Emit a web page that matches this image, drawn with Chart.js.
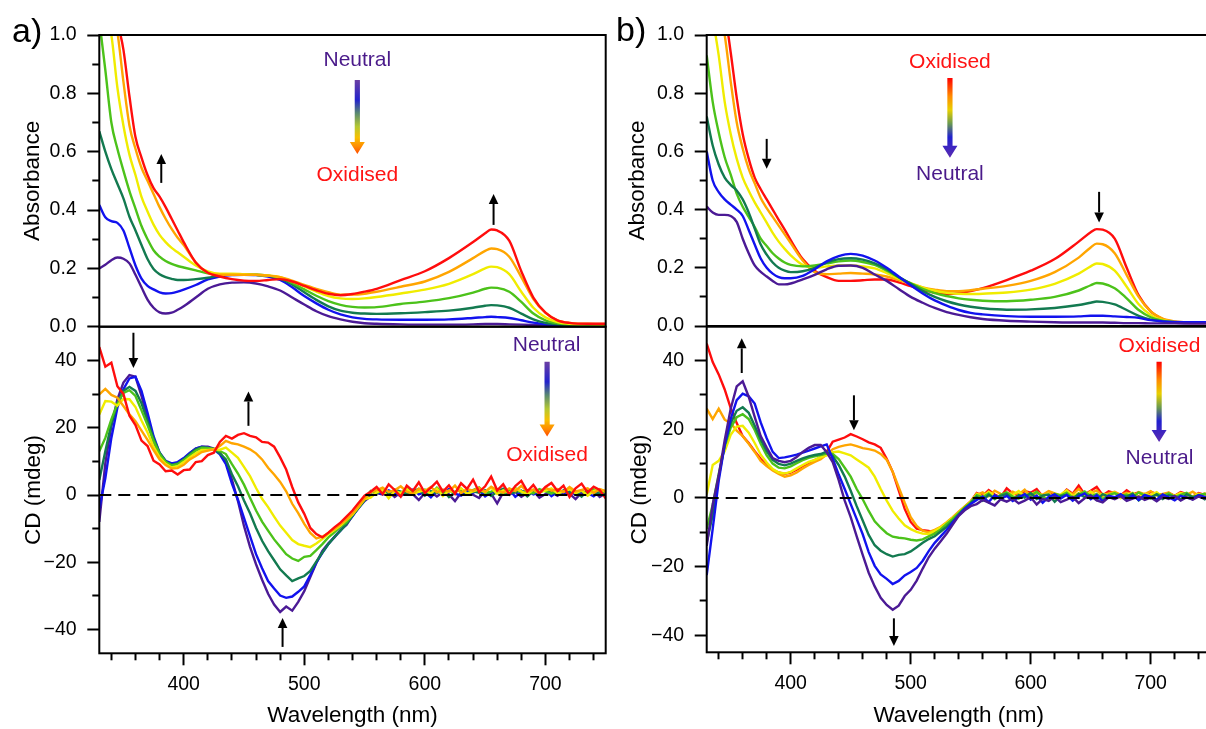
<!DOCTYPE html>
<html>
<head>
<meta charset="utf-8">
<script src="https://cdn.jsdelivr.net/npm/chart.js@4.4.1/dist/chart.umd.min.js"></script>
<style>
  html, body { margin: 0; padding: 0; background: #fff; overflow: hidden; width: 1206px; height: 729px; }
  canvas { position: absolute; }
</style>
</head>
<body>
<canvas id="absA" width="620" height="360" style="left:0;top:0"></canvas>
<canvas id="cdA" width="620" height="429" style="left:0;top:300px"></canvas>
<canvas id="absB" width="620" height="360" style="left:600px;top:0"></canvas>
<canvas id="cdB" width="620" height="429" style="left:600px;top:300px"></canvas>
<script>
// ---------- axis ticks ----------
const xMajorTicks = [400, 500, 600, 700];
const xMinorTicks = [340, 360, 380, 420, 440, 460, 480, 520, 540, 560, 580, 620, 640, 660, 680, 720, 740];
const absMajorTicks = [0, 0.2, 0.4, 0.6, 0.8, 1.0];
const absMinorTicks = [0.1, 0.3, 0.5, 0.7, 0.9];
const cdMajorTicks = [-40, -20, 0, 20, 40];
const cdMinorTicks = [-30, -10, 10, 30];

// ---------- absorbance spectra (wavelength in nm) ----------
const absWl = [330,335,340,345,350,355,360,365,370,375,380,385,390,395,400,
  410,420,430,440,450,460,470,480,490,500,510,520,530,540,550,560,
  580,600,620,640,650,655,660,670,680,690,700,710,720,735,750];

// a) neutral -> oxidised
const absA_purple = [0.200,0.212,0.228,0.237,0.233,0.217,0.178,0.135,0.093,0.065,0.049,0.045,0.048,0.058,0.070,
  0.100,0.130,0.145,0.151,0.152,0.148,0.138,0.124,0.100,0.076,0.053,0.036,0.025,0.017,0.012,0.010,
  0.008,0.007,0.007,0.008,0.009,0.009,0.009,0.008,0.007,0.006,0.005,0.005,0.004,0.004,0.004];
const absA_blue = [0.417,0.375,0.362,0.356,0.330,0.270,0.210,0.165,0.140,0.128,0.118,0.114,0.115,0.120,0.127,
  0.143,0.162,0.172,0.177,0.178,0.177,0.172,0.160,0.135,0.105,0.080,0.058,0.042,0.032,0.027,0.025,
  0.024,0.024,0.025,0.030,0.033,0.034,0.033,0.030,0.022,0.014,0.008,0.006,0.005,0.005,0.005];
const absA_teal = [0.670,0.600,0.540,0.490,0.440,0.377,0.330,0.280,0.232,0.198,0.180,0.170,0.164,0.160,0.160,
  0.163,0.168,0.176,0.180,0.180,0.178,0.175,0.165,0.145,0.118,0.092,0.070,0.055,0.048,0.045,0.044,
  0.046,0.050,0.055,0.065,0.072,0.074,0.073,0.065,0.045,0.025,0.013,0.008,0.006,0.005,0.005];
const absA_green = [1.050,0.880,0.700,0.610,0.535,0.465,0.405,0.345,0.300,0.262,0.240,0.225,0.215,0.208,0.203,
  0.193,0.183,0.180,0.180,0.180,0.178,0.175,0.168,0.150,0.128,0.106,0.088,0.075,0.068,0.066,0.067,
  0.078,0.086,0.098,0.117,0.130,0.134,0.133,0.120,0.085,0.045,0.022,0.012,0.008,0.006,0.006];
const absA_yellow = [1.150,1.080,1.000,0.820,0.690,0.590,0.520,0.445,0.395,0.350,0.315,0.290,0.270,0.255,0.240,
  0.210,0.190,0.182,0.182,0.180,0.178,0.176,0.170,0.155,0.138,0.120,0.105,0.097,0.095,0.097,0.102,
  0.114,0.127,0.147,0.180,0.200,0.206,0.204,0.180,0.120,0.065,0.032,0.016,0.010,0.008,0.007];
const absA_orange = [1.250,1.180,1.100,1.010,0.840,0.690,0.610,0.545,0.500,0.455,0.410,0.370,0.335,0.305,0.280,
  0.220,0.185,0.178,0.178,0.178,0.178,0.175,0.170,0.158,0.143,0.130,0.118,0.110,0.110,0.113,0.120,
  0.137,0.155,0.188,0.235,0.260,0.268,0.266,0.240,0.170,0.095,0.048,0.022,0.013,0.010,0.009];
const absA_red = [1.300,1.250,1.180,1.050,0.950,0.790,0.650,0.580,0.520,0.475,0.446,0.410,0.370,0.330,0.290,
  0.220,0.185,0.172,0.163,0.158,0.157,0.160,0.163,0.155,0.140,0.125,0.113,0.108,0.112,0.120,0.130,
  0.160,0.190,0.235,0.290,0.320,0.333,0.330,0.295,0.190,0.100,0.048,0.022,0.013,0.010,0.010];

// b) oxidised -> neutral
const absB_purple = [0.410,0.390,0.382,0.382,0.378,0.358,0.300,0.250,0.208,0.186,0.170,0.155,0.143,0.143,0.146,
  0.160,0.176,0.195,0.207,0.208,0.200,0.177,0.155,0.127,0.100,0.080,0.062,0.048,0.038,0.030,0.024,
  0.018,0.015,0.013,0.012,0.012,0.012,0.012,0.011,0.010,0.010,0.009,0.009,0.009,0.008,0.008];
const absB_blue = [0.600,0.500,0.460,0.435,0.417,0.400,0.378,0.330,0.280,0.232,0.200,0.180,0.168,0.164,0.164,
  0.172,0.195,0.222,0.240,0.248,0.242,0.225,0.200,0.170,0.140,0.112,0.088,0.070,0.055,0.045,0.040,
  0.034,0.032,0.032,0.033,0.035,0.035,0.035,0.033,0.031,0.028,0.020,0.016,0.014,0.013,0.013];
const absB_teal = [0.720,0.620,0.555,0.510,0.485,0.466,0.435,0.390,0.335,0.280,0.245,0.218,0.200,0.190,0.185,
  0.188,0.200,0.218,0.230,0.233,0.228,0.215,0.195,0.168,0.145,0.120,0.100,0.085,0.074,0.066,0.061,
  0.056,0.057,0.062,0.072,0.080,0.084,0.083,0.074,0.055,0.035,0.022,0.015,0.012,0.011,0.011];
const absB_green = [0.930,0.770,0.665,0.580,0.520,0.455,0.410,0.375,0.340,0.300,0.275,0.250,0.232,0.218,0.210,
  0.205,0.208,0.215,0.222,0.225,0.220,0.210,0.190,0.167,0.147,0.128,0.113,0.103,0.095,0.090,0.087,
  0.085,0.090,0.100,0.122,0.140,0.148,0.146,0.130,0.095,0.055,0.030,0.018,0.013,0.011,0.011];
const absB_yellow = [1.200,1.060,0.930,0.770,0.660,0.575,0.510,0.465,0.425,0.390,0.355,0.320,0.290,0.265,0.243,
  0.210,0.200,0.205,0.208,0.208,0.205,0.198,0.182,0.163,0.147,0.132,0.121,0.114,0.111,0.110,0.111,
  0.115,0.125,0.145,0.180,0.205,0.215,0.213,0.190,0.135,0.075,0.038,0.020,0.014,0.011,0.011];
const absB_orange = [1.300,1.200,1.100,1.000,0.840,0.700,0.610,0.540,0.490,0.440,0.405,0.375,0.345,0.315,0.285,
  0.225,0.185,0.178,0.180,0.182,0.180,0.177,0.170,0.158,0.145,0.133,0.125,0.120,0.120,0.123,0.128,
  0.138,0.155,0.185,0.235,0.270,0.283,0.281,0.250,0.175,0.100,0.050,0.025,0.016,0.012,0.012];
const absB_red = [1.350,1.250,1.160,1.080,0.940,0.785,0.660,0.575,0.510,0.470,0.435,0.400,0.365,0.331,0.295,
  0.230,0.190,0.168,0.155,0.155,0.157,0.160,0.160,0.150,0.137,0.125,0.115,0.110,0.113,0.120,0.130,
  0.158,0.190,0.230,0.290,0.322,0.333,0.331,0.300,0.200,0.105,0.050,0.024,0.014,0.010,0.010];

// ---------- CD spectra (mdeg), 330-750 nm every 5 nm ----------
const cdWl = [330,335,340,345,350,355,360,365,370,375,380,385,390,395,400,405,410,415,420,425,
  430,435,440,445,450,455,460,465,470,475,480,485,490,495,500,505,510,515,520,525,
  530,535,540,545,550,555,560,565,570,575,580,585,590,595,600,605,610,615,620,625,
  630,635,640,645,650,655,660,665,670,675,680,685,690,695,700,705,710,715,720,725,
  730,735,740,745,750];

const cdA_purple = [-8,9.5,20.5,28.5,33.5,35.7,35.2,29.5,22.8,15.8,
  11.6,9.8,9.2,9.6,10.8,12.4,13.8,14.4,14.4,13.8,
  12.6,9.8,4.6,-1.8,-9.2,-15.4,-20.6,-25.2,-29.4,-32.6,
  -34.8,-33.2,-34.4,-31.8,-28.6,-24.4,-20.2,-16.6,-14.4,-12.6,
  -10.4,-8.9,-6.2,-3.9,-1.8,
  -0.4,0.6,0.2,1.0,-0.6,0.8,1.2,0.3,-1.5,0.6,
  1.0,-0.4,0.9,0.2,-1.8,0.7,1.1,0.1,-0.9,1.3,
  0.4,-2.5,0.8,0.2,1.0,-0.5,0.6,1.2,-0.8,0.3,
  0.9,-0.2,1.1,0.4,-1.2,0.7,0.2,1.3,-0.6,0.5];
const cdA_blue = [-4,5,17,26,31.5,34.7,35.2,31,24.5,17.5,
  12.6,10.2,9.4,9.8,11,12.5,13.8,14.4,14.2,13.6,
  12.1,9.2,3.4,-1.4,-6.8,-12.2,-17.6,-21.8,-25.6,-27.8,
  -29.9,-30.6,-30.2,-28.8,-27.2,-23.8,-20.1,-17.2,-14.6,-12.4,
  -10.6,-8.4,-6.3,-3.7,-1.6,
  0.9,1.1,0.3,1.4,0.6,-0.3,1.0,1.6,0.2,0.9,
  -0.7,1.3,0.5,1.8,0.4,-0.2,1.2,0.7,1.5,-0.4,
  0.8,1.1,0.3,1.7,-0.5,0.9,1.4,0.2,0.8,1.6,
  -0.3,1.0,0.5,1.3,0.1,1.2,0.6,-0.4,1.1,0.7];
const cdA_teal = [4.5,13,21.2,27.2,31,32.2,31,27.3,22,16.8,
  12.6,10,9,9.4,10.6,12.2,13.6,14.2,14,13.6,
  12.4,10.6,6.2,2.6,-1.6,-5.4,-9.8,-13.6,-16.7,-19.4,
  -22.1,-23.9,-25.6,-24.8,-24.1,-22.6,-19.8,-17.1,-14.6,-12.5,
  -10.6,-8.6,-6.1,-3.8,-1.5,
  0.6,1.4,0.8,0.2,1.6,1.0,0.4,1.2,1.8,-0.2,
  1.1,0.6,1.5,-0.6,0.9,1.7,0.3,1.1,0.7,1.4,
  -0.3,1.0,1.9,0.5,0.8,1.3,-0.4,1.2,0.6,1.8,
  0.9,0.2,1.4,0.7,1.0,-0.5,1.3,0.8,0.3,1.1];
const cdA_green = [13,17,22.5,27.2,30.4,31.2,29.5,25.2,20.8,16.1,
  12.2,9.9,8.8,9.2,10.4,11.8,13.2,14,14,13.7,
  13.1,12.2,9.2,6.4,3.1,-0.8,-4.6,-7.9,-10.6,-13.2,
  -15.4,-17.6,-18.9,-19.6,-18.4,-18.1,-16.4,-14.6,-12.6,-11.1,
  -9.4,-8.1,-5.9,-3.7,-1.4,
  1.2,0.5,1.7,0.9,1.3,0.1,2.0,0.8,1.1,1.6,
  0.3,2.2,0.7,1.2,0.9,1.9,0.4,1.5,2.3,0.6,
  1.0,1.7,0.2,1.4,2.1,0.8,1.2,0.5,1.8,1.1,
  0.4,1.6,0.9,2.0,0.6,1.3,0.2,1.7,1.0,0.8];
const cdA_yellow = [24,28,27.8,26.6,28.6,28.5,26.2,22.2,18.6,14.4,
  11.2,9.3,8.2,8.6,9.8,11.2,12.4,13.4,13.4,13.6,
  13.5,14.1,12.6,11.1,8.4,5.6,2.1,-1.1,-3.6,-6.4,
  -9.1,-11.2,-13.4,-14.6,-15.1,-15.5,-14.4,-13.1,-11.6,-10.4,
  -9.1,-7.4,-5.8,-3.5,-1.2,
  -0.8,0.9,1.5,-1.0,1.2,0.6,1.8,0.2,1.0,1.4,
  0.5,1.9,-0.3,1.3,0.8,2.0,0.4,1.1,1.7,0.9,
  2.2,0.3,1.4,0.7,1.9,1.1,0.2,1.6,0.8,1.3,
  2.0,0.5,1.0,1.7,0.6,1.4,-0.2,1.2,1.8,0.9];
const cdA_orange = [30,31.6,29.8,29,26.5,24,22,19.2,16.4,13.4,
  10.6,8.9,7.9,8,9,10.6,11.6,12.8,13.2,13.6,
  14.6,16.1,15.4,15.1,14.4,13.6,12.4,10.6,8.1,6.1,
  3.9,1.1,-2.6,-5.4,-8.6,-11.3,-12.9,-12.4,-11.3,-10.1,
  -8.7,-7.3,-5.5,-3.3,-1.1,
  0.7,1.5,2.2,0.9,1.4,2.6,1.0,0.4,1.9,1.2,
  2.4,0.8,1.6,1.1,2.8,0.6,1.8,1.3,2.1,0.9,
  2.5,1.4,0.7,2.0,1.2,2.7,1.0,1.6,0.5,2.2,
  1.3,1.8,0.9,2.4,1.1,1.5,2.0,0.6,1.7,1.2];
const cdA_red = [44,38.2,39.4,32.4,30.1,23.6,20.8,16.2,14.6,10.2,
  9.1,7.1,7.3,6.1,7.4,7.6,9.8,10.1,11.9,12.6,
  15.8,17.6,16.8,17.9,18.4,17.6,17.2,15.8,15.6,14.4,
  11.2,7.6,2.4,-2.2,-5.6,-9.8,-11.6,-12.6,-11.2,-9.6,
  -8.2,-6.4,-4.6,-2.4,-0.2,
  1.0,2.4,0.3,3.2,1.5,-0.5,2.8,1.2,3.8,0.6,
  2.2,4.0,1.0,2.9,0.4,3.5,1.8,4.6,0.9,2.6,
  5.5,1.4,3.2,0.2,2.7,4.2,1.1,3.0,0.5,2.4,
  3.6,1.2,2.8,-0.6,2.0,3.4,0.8,2.5,1.5,-1.0];

const cdB_purple = [-14,-2,6.5,16.8,26,32.5,34,29.5,23.6,18,
  14.7,11.6,10.8,10.4,10.8,11.9,13.4,14.6,15.4,15.4,
  13.3,10.4,5.2,-0.8,-5.6,-11.2,-16.6,-21.8,-25.8,-29.1,
  -31.2,-32.6,-31.4,-28.6,-26.8,-24.1,-20.6,-17.3,-14.8,-12.6,
  -10.4,-7.8,-5.2,-3.6,-2.4,
  -1.8,-0.6,-1.4,-2.2,-0.4,-1.1,-0.2,-1.6,-0.8,0.2,
  -1.9,-0.3,-0.9,0.4,-1.2,-0.5,0.3,-1.5,-0.1,0.6,
  -0.7,-1.3,0.2,-0.4,0.5,-0.9,-0.2,0.4,-0.6,0.1,
  -1.0,0.3,-0.3,0.6,-0.8,0.2,-0.5,0.4,-0.2,0.1];
const cdB_blue = [-22.5,-9,5,15.5,23,28.5,30.4,29.6,27.5,22,
  17.4,13.4,11.6,11.8,12.2,12.6,13.2,13.8,14.4,15,
  15.6,11.4,6.8,2.6,-1.8,-6.2,-10.6,-15.8,-19.8,-22.3,
  -23.6,-25.1,-24.2,-22.6,-21.6,-20.4,-18.3,-15.5,-13.1,-11.2,
  -9.3,-7.2,-5.1,-3.2,-1.8,
  -0.6,0.4,-1.2,0.8,-0.3,0.6,-0.9,0.2,1.1,-0.5,
  0.7,-1.4,0.3,1.0,-0.2,0.9,-0.8,0.5,1.3,-0.4,
  0.8,-1.0,0.6,0.2,1.1,-0.3,0.7,-0.6,0.9,0.3,
  -0.5,1.0,0.2,-0.7,0.6,0.1,-0.4,0.8,0.3,-0.2];
const cdB_teal = [-13,-5,6,15.5,21.8,25.4,26.4,24.8,21,17,
  13.6,11.1,9.9,9.5,10,10.8,11.5,12.1,12.5,12.8,
  13.5,12.2,9.6,6.2,2.1,-2.4,-6.6,-10.8,-13.8,-15.4,
  -16.4,-17.1,-16.6,-16.4,-15.6,-14.4,-13.1,-12,-11.2,-9.8,
  -8.4,-6.8,-4.9,-3.1,-1.6,
  0.3,-0.8,0.9,-0.2,0.6,1.2,-0.5,0.8,0.1,1.4,
  -0.3,0.7,1.0,-1.1,0.5,0.9,-0.4,1.2,0.2,0.8,
  -0.6,1.1,0.4,-0.2,0.9,0.3,1.3,-0.7,0.6,0.2,
  1.0,-0.3,0.8,0.4,-0.5,1.1,0.2,0.7,-0.4,0.9];
const cdB_green = [-9,-2,7,15,20.5,23.5,24.4,23,19.8,15.8,
  12.4,10,8.8,8.6,9.2,10.1,11,11.7,12.1,12.5,
  12.9,12.8,11.3,8.8,6.2,2.6,-0.4,-3.8,-6.8,-8.7,
  -10.3,-11.3,-11.6,-11.8,-12.2,-12.4,-12.1,-11.2,-10.4,-9.2,
  -7.6,-6.1,-4.4,-2.8,-1.3,
  0.8,0.2,1.3,-0.4,0.9,1.6,0.4,-0.2,1.1,0.6,
  1.8,0.3,-0.6,1.2,0.7,1.5,0.1,0.9,1.9,0.4,
  1.2,-0.3,0.8,1.4,0.5,1.0,0.2,1.6,0.7,-0.2,
  1.1,0.5,1.3,0.3,0.9,1.5,0.2,0.8,1.2,0.4];
const cdB_yellow = [1,9.6,10.8,13.6,18.4,20.8,21,19,16,12.6,
  10.3,8.4,7.4,7.1,7.6,8.6,9.6,10.5,11.1,11.9,
  12.4,13.3,13.5,13,12.4,11.2,10,8.8,6.2,2.6,
  -0.8,-3.8,-6,-8,-9.1,-9.9,-10.4,-10.5,-9.6,-8.6,
  -7.3,-5.8,-4.3,-2.7,-1.2,
  1.2,0.4,1.8,0.7,-0.2,1.5,0.9,2.0,0.3,1.1,
  1.7,0.6,1.3,-0.4,1.0,2.2,0.5,1.4,0.8,1.9,
  0.3,1.2,0.7,1.6,-0.1,1.0,1.5,0.4,1.2,0.8,
  1.7,0.2,1.1,0.6,1.4,0.9,0.3,1.2,0.7,1.0];
const cdB_orange = [26,23,26,22.8,21.8,19.6,18,15.8,13.4,10.8,
  9.3,8,7,6.2,6.6,7.4,8.6,9.6,10.5,11.3,
  12.6,14.2,14.9,15.3,15.6,15.1,14.5,14.2,13.8,12.8,
  11.1,7.6,3.1,-1.4,-5.6,-8.2,-9.6,-10,-9.3,-8.4,
  -7.1,-5.6,-4,-2.5,-1,
  0.9,1.6,0.5,2.1,1.2,0.6,1.8,1.0,2.4,0.4,
  1.5,0.9,2.0,1.3,0.7,1.9,1.1,2.6,0.8,1.4,
  2.2,0.6,1.3,1.8,0.9,1.5,0.4,1.7,1.1,2.0,
  0.7,1.2,1.6,0.5,1.4,0.9,1.8,0.6,1.3,1.0];
const cdB_red = [45,39.6,36,31.6,26.2,21.8,18,16,13.6,11.4,
  9.5,8.2,7.4,7,7.4,8.2,9.3,10.2,11,11.8,
  13.4,16.4,17,17.6,18.6,17.9,17.1,16.2,15.6,14.6,
  11.4,7.6,2.2,-3.2,-7,-9,-9.4,-9.6,-10.2,-8.8,
  -7.4,-5.8,-4.2,-2.6,-1,
  1.4,0.6,2.3,1.0,0.2,2.8,1.3,0.7,2.0,1.5,
  2.6,0.4,1.8,1.1,0.6,2.4,1.2,3.6,1.0,2.1,
  3.2,0.8,1.9,1.4,0.7,2.2,1.0,1.6,0.5,1.8,
  1.2,0.9,1.5,0.6,1.7,1.1,0.4,1.4,0.9,1.2];

// zero reference for the CD panels
const zeroWl = [330, 750];
const zeroLevel = [0, 0];

// ---------- styling ----------
const FONT = "'Liberation Sans', Arial, Helvetica, sans-serif";
const C = {
  purple: '#4b1a95', blue: '#1212ee', teal: '#137a50', green: '#4cc21a',
  yellow: '#f0ec00', orange: '#ffa500', red: '#ff0d0d'
};
const NEUTRAL_TXT = '#4a1a8a';
const OXID_TXT = '#ff1414';
const gradNeutralToOx = [[0, '#6b3fa3'], [0.27, '#2323cc'], [0.45, '#5a8a70'], [0.63, '#b4c832'], [0.78, '#f8c000'], [0.9, '#ff8a00'], [1, '#ff4a00']];
const gradOxToNeutral = [[0, '#ff0000'], [0.23, '#ff8c00'], [0.4, '#e8d000'], [0.57, '#6a9a50'], [0.74, '#2020d0'], [1, '#5b2bb0']];

function arrow(ctx, x, y0, y1) {
  const dir = Math.sign(y1 - y0), hl = 10, hw = 4.8;
  ctx.strokeStyle = '#000'; ctx.fillStyle = '#000'; ctx.lineWidth = 2;
  ctx.beginPath(); ctx.moveTo(x, y0); ctx.lineTo(x, y1 - dir * hl); ctx.stroke();
  ctx.beginPath(); ctx.moveTo(x, y1); ctx.lineTo(x - hw, y1 - dir * hl); ctx.lineTo(x + hw, y1 - dir * hl); ctx.closePath(); ctx.fill();
}
function gradArrow(ctx, x, y0, y1, stops) {
  const g = ctx.createLinearGradient(0, y0, 0, y1);
  stops.forEach(([o, c]) => g.addColorStop(o, c));
  const hl = 12, hw = 7.5, sw = 2.6;
  ctx.fillStyle = g;
  ctx.beginPath();
  ctx.moveTo(x - sw, y0); ctx.lineTo(x + sw, y0); ctx.lineTo(x + sw, y1 - hl);
  ctx.lineTo(x + hw, y1 - hl); ctx.lineTo(x, y1); ctx.lineTo(x - hw, y1 - hl);
  ctx.lineTo(x - sw, y1 - hl); ctx.closePath(); ctx.fill();
}

// frame, panel letter, arrows and state labels
function decor(spec) {
  return {
    id: 'decor',
    afterDraw(chart) {
      const {ctx, chartArea: a} = chart;
      const xs = chart.scales.x, ys = chart.scales.y;
      ctx.save();
      ctx.lineWidth = 2; ctx.strokeStyle = '#000';
      ctx.strokeRect(a.left, a.top, a.right - a.left, a.bottom - a.top);
      if (spec.letter) {
        ctx.fillStyle = '#000'; ctx.font = '34px ' + FONT;
        ctx.textAlign = 'left'; ctx.textBaseline = 'alphabetic';
        ctx.fillText(spec.letter.text, spec.letter.x, spec.letter.y);
      }
      (spec.arrows || []).forEach(r => arrow(ctx, xs.getPixelForValue(r.x), ys.getPixelForValue(r.from), ys.getPixelForValue(r.to)));
      (spec.gradArrows || []).forEach(r => gradArrow(ctx, xs.getPixelForValue(r.x), ys.getPixelForValue(r.from), ys.getPixelForValue(r.to), r.stops));
      ctx.font = '21px ' + FONT; ctx.textAlign = 'center'; ctx.textBaseline = 'middle';
      (spec.texts || []).forEach(t => {
        ctx.fillStyle = t.color;
        ctx.fillText(t.text, xs.getPixelForValue(t.x), ys.getPixelForValue(t.y));
      });
      ctx.restore();
    }
  };
}

function panel(canvasId, p) {
  const datasets = [];
  if (p.zero) {
    datasets.push({
      data: zeroWl.map((w, i) => ({x: w, y: zeroLevel[i]})),
      borderColor: '#000', borderWidth: 2, borderDash: [12, 7], pointRadius: 0,
      xAxisID: 'x', yAxisID: 'y'
    });
  }
  p.series.forEach(s => datasets.push({
    data: p.wl.map((w, i) => ({x: w, y: s.values[i]})),
    borderColor: s.color, borderWidth: 2.4, pointRadius: 0, fill: false,
    tension: p.smooth ? 0.4 : 0, cubicInterpolationMode: p.smooth ? 'monotone' : 'default',
    xAxisID: 'x', yAxisID: 'y'
  }));
  const tickFont = {family: FONT, size: 19.5};
  const titleFont = {family: FONT, size: 22.5};
  const fixed = list => s => { s.ticks = list.map(v => ({value: v})); };
  const tickGrid = len => ({display: true, drawOnChartArea: false, drawTicks: true, tickLength: len, tickWidth: 2, tickColor: '#000'});

  new Chart(document.getElementById(canvasId), {
    type: 'line',
    data: {datasets},
    options: {
      responsive: false, animation: false, devicePixelRatio: 1,
      layout: {padding: p.padding},
      plugins: {legend: {display: false}, tooltip: {enabled: false}},
      scales: {
        x: {
          type: 'linear', position: 'bottom', min: 330, max: 750, display: p.showX, weight: 1,
          afterBuildTicks: fixed(xMajorTicks), afterFit: s => { s.height = p.xHeight; },
          grid: tickGrid(12), border: {display: false},
          ticks: {font: tickFont, color: '#000', padding: 8, maxRotation: 0, autoSkip: false, callback: v => String(v)},
          title: {display: true, text: 'Wavelength (nm)', font: titleFont, color: '#000', padding: {top: 0, bottom: 0}}
        },
        xMinor: {
          type: 'linear', position: 'bottom', min: 330, max: 750, display: p.showX, weight: 0,
          afterBuildTicks: fixed(xMinorTicks), afterFit: s => { s.height = 0; },
          grid: tickGrid(7), border: {display: false}, ticks: {display: false}
        },
        y: {
          type: 'linear', position: 'left', min: p.yMin, max: p.yMax, weight: 1,
          afterBuildTicks: fixed(p.yMajor), afterFit: s => { s.width = p.yWidth; },
          grid: tickGrid(12), border: {display: false},
          ticks: {font: tickFont, color: '#000', padding: 10.6, autoSkip: false, callback: p.fmt},
          title: {display: true, text: p.yTitle, font: titleFont, color: '#000', padding: {top: p.titlePad, bottom: 0}}
        },
        yMinor: {
          type: 'linear', position: 'left', min: p.yMin, max: p.yMax, weight: 0,
          afterBuildTicks: fixed(p.yMinor), afterFit: s => { s.width = 0; },
          grid: tickGrid(7), border: {display: false}, ticks: {display: false}
        }
      }
    },
    plugins: [decor(p.decor)]
  });
}

const fmtAbs = v => v.toFixed(1);
const fmtCd = v => (v < 0 ? '\u2212' + Math.abs(v) : String(v));

// a) absorbance, neutral -> oxidised
panel('absA', {
  wl: absWl, smooth: true, showX: false, xHeight: 0,
  series: [
    {values: absA_red, color: C.red}, {values: absA_orange, color: C.orange},
    {values: absA_yellow, color: C.yellow}, {values: absA_green, color: C.green},
    {values: absA_teal, color: C.teal}, {values: absA_blue, color: C.blue},
    {values: absA_purple, color: C.purple}
  ],
  yMin: 0, yMax: 1.0, yMajor: absMajorTicks, yMinor: absMinorTicks, fmt: fmtAbs,
  yTitle: 'Absorbance', yWidth: 99.3, titlePad: 19,
  padding: {left: 0, top: 35, right: 14.3, bottom: 33.3},
  decor: {
    letter: {text: 'a)', x: 12, y: 42},
    arrows: [{x: 381.4, from: 0.493, to: 0.592}, {x: 657, from: 0.349, to: 0.455}],
    gradArrows: [{x: 544, from: 0.846, to: 0.592, stops: gradNeutralToOx}],
    texts: [{text: 'Neutral', x: 544, y: 0.913, color: NEUTRAL_TXT}, {text: 'Oxidised', x: 544, y: 0.52, color: OXID_TXT}]
  }
});

// a) CD, neutral -> oxidised
panel('cdA', {
  wl: cdWl, smooth: false, showX: true, xHeight: 75.7, zero: true,
  series: [
    {values: cdA_red, color: C.red}, {values: cdA_orange, color: C.orange},
    {values: cdA_yellow, color: C.yellow}, {values: cdA_green, color: C.green},
    {values: cdA_teal, color: C.teal}, {values: cdA_blue, color: C.blue},
    {values: cdA_purple, color: C.purple}
  ],
  yMin: -47.1, yMax: 50.1, yMajor: cdMajorTicks, yMinor: cdMinorTicks, fmt: fmtCd,
  yTitle: 'CD (mdeg)', yWidth: 99.3, titlePad: 20,
  padding: {left: 0, top: 26.7, right: 14.3, bottom: 0},
  decor: {
    arrows: [{x: 358.3, from: 48.3, to: 37.8}, {x: 453.7, from: 20.6, to: 30.8}, {x: 482, from: -45.2, to: -36.6}],
    gradArrows: [{x: 701.4, from: 39.7, to: 17.4, stops: gradNeutralToOx}],
    texts: [{text: 'Neutral', x: 701, y: 44.5, color: NEUTRAL_TXT}, {text: 'Oxidised', x: 701.4, y: 11.8, color: OXID_TXT}]
  }
});

// b) absorbance, oxidised -> neutral
panel('absB', {
  wl: absWl, smooth: true, showX: false, xHeight: 0,
  series: [
    {values: absB_purple, color: C.purple}, {values: absB_blue, color: C.blue},
    {values: absB_teal, color: C.teal}, {values: absB_green, color: C.green},
    {values: absB_yellow, color: C.yellow}, {values: absB_orange, color: C.orange},
    {values: absB_red, color: C.red}
  ],
  yMin: 0, yMax: 1.0, yMajor: absMajorTicks, yMinor: absMinorTicks, fmt: fmtAbs,
  yTitle: 'Absorbance', yWidth: 106.7, titlePad: 24,
  padding: {left: 0, top: 35, right: 9.3, bottom: 34},
  decor: {
    letter: {text: 'b)', x: 16, y: 41},
    arrows: [{x: 380, from: 0.643, to: 0.54}, {x: 657, from: 0.461, to: 0.356}],
    gradArrows: [{x: 532.7, from: 0.852, to: 0.578, stops: gradOxToNeutral}],
    texts: [{text: 'Oxidised', x: 532.7, y: 0.906, color: OXID_TXT}, {text: 'Neutral', x: 532.7, y: 0.522, color: NEUTRAL_TXT}]
  }
});

// b) CD, oxidised -> neutral
panel('cdB', {
  wl: cdWl, smooth: false, showX: true, xHeight: 76.7, zero: true,
  series: [
    {values: cdB_purple, color: C.purple}, {values: cdB_blue, color: C.blue},
    {values: cdB_teal, color: C.teal}, {values: cdB_green, color: C.green},
    {values: cdB_yellow, color: C.yellow}, {values: cdB_orange, color: C.orange},
    {values: cdB_red, color: C.red}
  ],
  yMin: -45, yMax: 49.9, yMajor: cdMajorTicks, yMinor: cdMinorTicks, fmt: fmtCd,
  yTitle: 'CD (mdeg)', yWidth: 106.7, titlePad: 26,
  padding: {left: 0, top: 26.7, right: 9.3, bottom: 0},
  decor: {
    arrows: [{x: 359.2, from: 36.4, to: 46.5}, {x: 452.7, from: 29.9, to: 19.7}, {x: 486, from: -35.1, to: -43.2}],
    gradArrows: [{x: 707, from: 39.7, to: 16.3, stops: gradOxToNeutral}],
    texts: [{text: 'Oxidised', x: 707.3, y: 44.3, color: OXID_TXT}, {text: 'Neutral', x: 707.3, y: 11.7, color: NEUTRAL_TXT}]
  }
});
</script>
</body>
</html>
